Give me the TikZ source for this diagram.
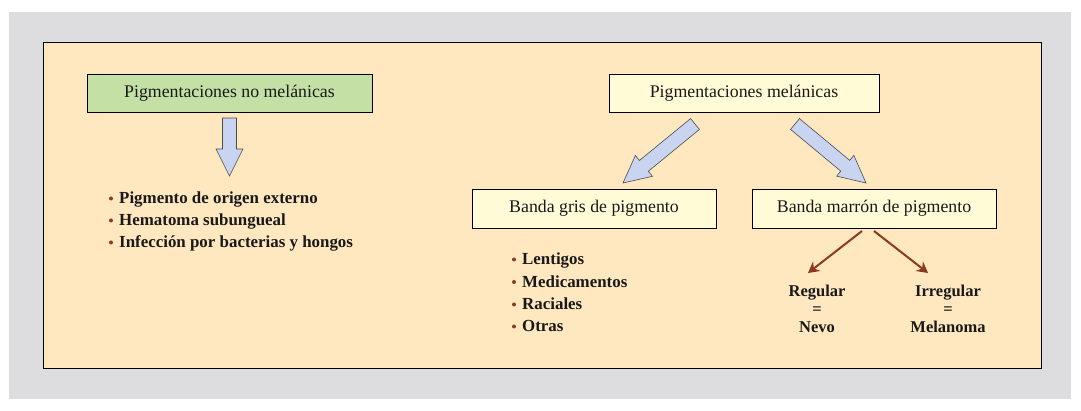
\documentclass[tikz,border=0pt]{standalone}
\usepackage{fontspec}
\setmainfont{Liberation Serif}
\usetikzlibrary{calc,arrows.meta}
\definecolor{bggray}{RGB}{221,221,223}
\definecolor{bgorange}{RGB}{255,231,192}
\definecolor{boxgreen}{RGB}{197,224,165}
\definecolor{boxyellow}{RGB}{255,251,214}
\definecolor{arrblue}{RGB}{200,212,240}
\definecolor{arrbrown}{RGB}{140,58,30}
\tikzset{
  box/.style={draw=black, line width=0.9pt, minimum height=38pt, inner sep=0pt, font=\fontsize{17.8}{20}\selectfont, text=black!90},
  itemtext/.style={anchor=base west, inner sep=0pt, font=\fontsize{16.9}{20}\bfseries\selectfont, text=black!90},
  bul/.style={circle, fill=arrbrown, inner sep=0pt, minimum size=4pt},
  blockarrow/.style={draw=black!70, line width=0.6pt, fill=arrblue, line join=miter},
  brownarrow/.style={draw=arrbrown, line width=2pt, -{Stealth[length=11pt,width=12pt]}},
  result/.style={align=center, inner sep=0pt, font=\fontsize{16.5}{18}\bfseries\selectfont, text=black!90}
}
\newcommand\blockarr[2]{%
  \path[blockarrow] let \p1=(#1), \p2=(#2), \n1={atan2(\y2-\y1,\x2-\x1)}, \n2={veclen(\x2-\x1,\y2-\y1)} in
  [shift={(\p1)}, rotate=\n1] (0pt,-7pt) -- ({\n2*1pt-27pt},-7pt) -- ({\n2*1pt-27pt},-13.5pt) -- ({\n2*1pt},0pt) -- ({\n2*1pt-27pt},13.5pt) -- ({\n2*1pt-27pt},7pt) -- (0pt,7pt) -- cycle;}
\begin{document}
\begin{tikzpicture}[x=1pt,y=-1pt]
\useasboundingbox (0,0) rectangle (1081,411);
\fill[white] (0,0) rectangle (1081,411);
\fill[bggray] (9,12) rectangle (1071,399);
\draw[fill=bgorange, line width=0.9pt] (43,42) rectangle (1041,368);

% left column
\node[box, fill=boxgreen, minimum width=285pt] (nomel) at (229.5,93) {Pigmentaciones no melánicas};
\coordinate (a0s) at (229.5,118);
\coordinate (a0e) at (229.5,176);
\blockarr{a0s}{a0e}

\node[bul] (b1) at (111,198.5) {};
\node[itemtext] (t1) at (119,204) {Pigmento de origen externo};
\node[bul] (b2) at (111,220.5) {};
\node[itemtext] (t2) at (119,226) {Hematoma subungueal};
\node[bul] (b3) at (111,242.5) {};
\node[itemtext] (t3) at (119,248) {Infección por bacterias y hongos};

% right column
\node[box, fill=boxyellow, minimum width=270pt] (mel) at (744,93) {Pigmentaciones melánicas};
\coordinate (a1s) at (695,124);
\coordinate (a1e) at (623,183);
\coordinate (a2s) at (795,124);
\coordinate (a2e) at (866,183);
\blockarr{a1s}{a1e}
\blockarr{a2s}{a2e}

\node[box, fill=boxyellow, minimum width=244pt, minimum height=39pt] (gris) at (594,208.5) {Banda gris de pigmento};
\node[box, fill=boxyellow, minimum width=244pt, minimum height=39pt] (marron) at (874,208.5) {Banda marrón de pigmento};

\node[bul] (c1) at (514,259.5) {};
\node[itemtext] (u1) at (522,265) {Lentigos};
\node[bul] (c2) at (514,282) {};
\node[itemtext] (u2) at (522,287.5) {Medicamentos};
\node[bul] (c3) at (514,304.5) {};
\node[itemtext] (u3) at (522,310) {Raciales};
\node[bul] (c4) at (514,326.5) {};
\node[itemtext] (u4) at (522,332) {Otras};

\coordinate (m1) at (862,231);
\coordinate (m2) at (874,231);
\coordinate (r1) at (808,273);
\coordinate (r2) at (928,273);
\draw[brownarrow] (m1) -- (r1);
\draw[brownarrow] (m2) -- (r2);

\node[result] (reg) at (817,309) {Regular\\=\\Nevo};
\node[result] (irr) at (948,309) {Irregular\\=\\Melanoma};
\end{tikzpicture}
\end{document}
